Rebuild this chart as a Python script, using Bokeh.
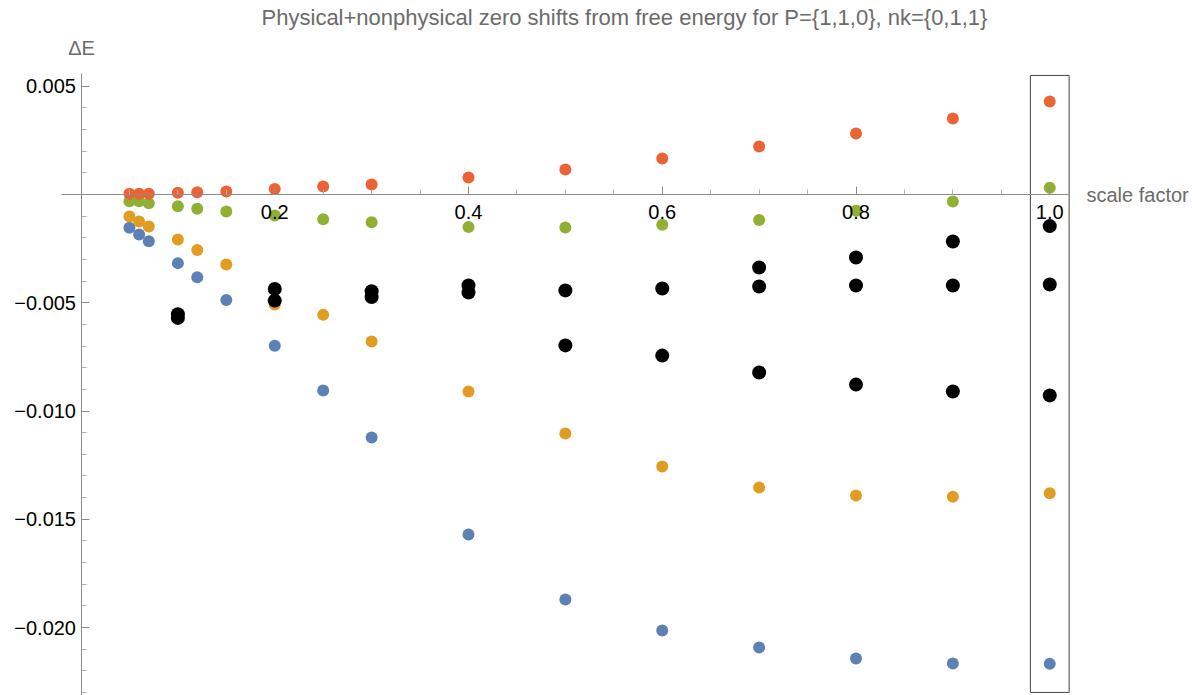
from bokeh.plotting import figure
from bokeh.models import Range1d, LinearAxis, FixedTicker, CustomJSTickFormatter, Label
from bokeh.embed import file_html
from bokeh.resources import INLINE

# ---------------- data ----------------
scale = [0.05, 0.06, 0.07, 0.1, 0.12, 0.15, 0.2, 0.25, 0.3, 0.4, 0.5, 0.6, 0.7, 0.8, 0.9, 1.0]
blue = [-0.00154, -0.00185, -0.00216, -0.00317, -0.00382, -0.00487, -0.00699, -0.00905, -0.01122,
        -0.0157, -0.01871, -0.02014, -0.02092, -0.02143, -0.02166, -0.02168]
orange = [-0.00102, -0.00125, -0.00148, -0.00208, -0.00256, -0.00323, -0.00508, -0.00556, -0.00679,
          -0.0091, -0.01104, -0.01256, -0.01353, -0.0139, -0.01396, -0.0138]
green = [-0.00031, -0.00031, -0.0004, -0.00054, -0.00066, -0.00079, -0.00097, -0.00114, -0.00128,
         -0.0015, -0.00152, -0.0014, -0.00118, -0.00075, -0.00032, 0.00031]
red = [0.00003, 0.00003, 0.00003, 0.00008, 0.0001, 0.00014, 0.00025, 0.00037, 0.00046,
       0.00079, 0.00115, 0.00166, 0.00222, 0.00282, 0.00351, 0.0043]

black_x = [0.1, 0.2, 0.3, 0.4, 0.5, 0.6, 0.7, 0.8, 0.9, 1.0]
black_mid = [-0.00553, -0.00436, -0.00447, -0.0042, -0.00443, -0.00434, -0.00425, -0.0042, -0.0042, -0.00416]
black_low = [-0.0057, -0.0049, -0.00474, -0.00453, -0.00697, -0.00744, -0.00822, -0.00878, -0.0091, -0.00928]
black_top_x = [0.7, 0.8, 0.9, 1.0]
black_top = [-0.00337, -0.00291, -0.00217, -0.00146]

x_major = [0.2, 0.4, 0.6, 0.8, 1.0]
x_minor = [0.05, 0.1, 0.15, 0.25, 0.3, 0.35, 0.45, 0.5, 0.55, 0.65, 0.7, 0.75, 0.85, 0.9, 0.95]
y_major = [0.005, -0.005, -0.010, -0.015, -0.020]
y_minor = [0.004, 0.003, 0.002, 0.001, -0.001, -0.002, -0.003, -0.004,
           -0.006, -0.007, -0.008, -0.009, -0.011, -0.012, -0.013, -0.014,
           -0.016, -0.017, -0.018, -0.019, -0.021, -0.022, -0.023]

title_text = "Physical+nonphysical zero shifts from free energy for P={1,1,0}, nk={0,1,1}"
y_label = "\u0394E"
x_label = "scale factor"

# highlighted column around scale factor 1.0
hl_left, hl_right, hl_top, hl_bottom = 0.98, 1.02, 0.0055, -0.0230

# ---------------- figure ----------------
W, H = 1192, 695
x0_px, x_scale = 80.5, 968.75     # pixel of x=0, pixels per unit
y0_px, y_scale = 194.0, 21650.0   # pixel of y=0, pixels per unit

p = figure(width=W, height=H,
           x_range=Range1d(-x0_px / x_scale, (W - x0_px) / x_scale),
           y_range=Range1d(-(H - y0_px) / y_scale, y0_px / y_scale),
           x_axis_type=None, y_axis_type=None,
           toolbar_location=None, output_backend="svg",
           min_border=0, min_border_left=0, min_border_right=0,
           min_border_top=0, min_border_bottom=0)
p.outline_line_color = None
p.background_fill_color = "white"
p.border_fill_color = "white"

axis_col = "#8c8c8c"
FONT = "Liberation Sans"

xaxis = LinearAxis(fixed_location=0, bounds=(-0.02, 1.02),
                   ticker=FixedTicker(ticks=x_major, minor_ticks=x_minor),
                   formatter=CustomJSTickFormatter(code="return tick.toFixed(1);"))
yaxis = LinearAxis(fixed_location=0, bounds=(-0.0235, 0.0056),
                   ticker=FixedTicker(ticks=y_major, minor_ticks=y_minor),
                   formatter=CustomJSTickFormatter(code="""
                       const s = Math.abs(tick).toFixed(3);
                       return tick < 0 ? "\u2212" + s : s;"""))
for ax in (xaxis, yaxis):
    ax.axis_line_color = axis_col
    ax.axis_line_width = 1
    ax.major_tick_line_color = axis_col
    ax.minor_tick_line_color = "#b0b0b0"
    ax.major_tick_in = 8
    ax.major_tick_out = 0
    ax.minor_tick_in = 5
    ax.minor_tick_out = 0
    ax.major_label_text_font = FONT
    ax.major_label_text_font_size = "20px"
    ax.major_label_text_color = "black"
xaxis.major_label_standoff = 10
yaxis.major_label_standoff = 5
p.add_layout(xaxis, "below")
p.add_layout(yaxis, "left")

series = [(blue, "#5E81B5"), (orange, "#E19C24"), (green, "#8FB032"), (red, "#EB6235")]
for ys, col in series:
    p.scatter(scale, ys, size=12, fill_color=col, line_color=None)

p.scatter(black_x, black_mid, size=14, fill_color="black", line_color=None)
p.scatter(black_x, black_low, size=14, fill_color="black", line_color=None)
p.scatter(black_top_x, black_top, size=14, fill_color="black", line_color=None)

p.quad(left=[hl_left], right=[hl_right], top=[hl_top], bottom=[hl_bottom],
       fill_color=None, line_color="#444444", line_width=1)

p.add_layout(Label(x=624, y=H - 17, x_units="screen", y_units="screen", text=title_text,
                   text_align="center", text_baseline="alphabetic",
                   text_font=FONT, text_font_size="22px", text_color="#6b6b6b"))
p.add_layout(Label(x=81, y=H - 47, x_units="screen", y_units="screen", text=y_label,
                   text_align="center", text_baseline="middle",
                   text_font=FONT, text_font_size="20px", text_color="#6b6b6b"))
p.add_layout(Label(x=1086, y=H - 194, x_units="screen", y_units="screen", text=x_label,
                   text_align="left", text_baseline="middle",
                   text_font=FONT, text_font_size="20px", text_color="#6b6b6b"))

open("out.html", "w").write(file_html(p, INLINE))
